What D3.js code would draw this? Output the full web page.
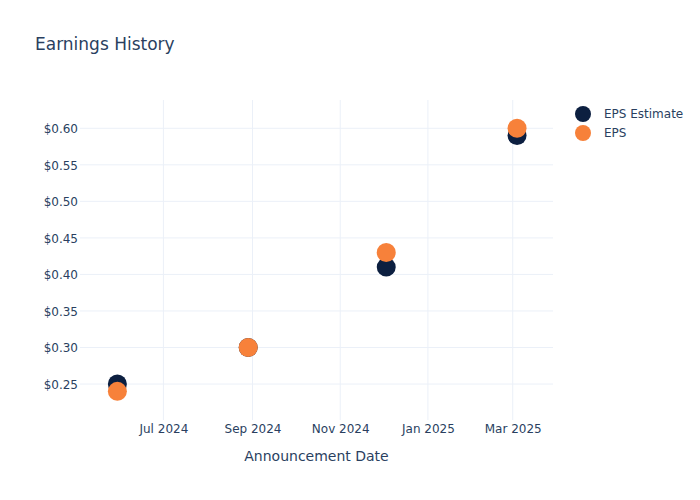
<!DOCTYPE html>
<html>
<head>
<meta charset="utf-8">
<script src="https://cdn.jsdelivr.net/npm/d3@7"></script>
<style>
  body { margin: 0; background: #fff; }
  svg { display: block; font-family: "DejaVu Sans", sans-serif; }
</style>
</head>
<body>
<svg id="chart" width="700" height="500"></svg>
<script>
const dates = ["2024-05-30", "2024-08-29", "2024-12-03", "2025-03-04"];
const epsEstimate = [0.25, 0.30, 0.41, 0.59];
const epsActual = [0.24, 0.30, 0.43, 0.60];
const yTicks = [0.25, 0.30, 0.35, 0.40, 0.45, 0.50, 0.55, 0.60];
const xTicks = ["2024-07-01", "2024-09-01", "2024-11-01", "2025-01-01", "2025-03-01"];

const series = [
  { name: "EPS Estimate", values: epsEstimate, color: "#0c1f40" },
  { name: "EPS", values: epsActual, color: "#f7813a" }
];

const parse = d3.utcParse("%Y-%m-%d");
const textColor = "#2a3f5f";
const gridColor = "#ebf0f8";

const margin = { top: 100, right: 147, bottom: 80, left: 80 };
const width = 700, height = 500;
const innerWidth = width - margin.left - margin.right;
const innerHeight = height - margin.top - margin.bottom;

const svg = d3.select("#chart");
const chart = svg.append("g").attr("transform", `translate(${margin.left},${margin.top})`);

const x = d3.scaleUtc()
  .domain([parse("2024-05-04"), parse("2025-03-29")])
  .range([0, innerWidth]);

const y = d3.scaleLinear()
  .domain([0.2008, 0.6387])
  .range([innerHeight, 0]);

// gridlines
chart.append("g")
  .selectAll("line.vgrid")
  .data(xTicks)
  .enter()
  .append("line")
  .attr("x1", (d) => x(parse(d)))
  .attr("x2", (d) => x(parse(d)))
  .attr("y1", 0)
  .attr("y2", innerHeight)
  .attr("stroke", gridColor);

chart.append("g")
  .selectAll("line.hgrid")
  .data(yTicks)
  .enter()
  .append("line")
  .attr("x1", 0)
  .attr("x2", innerWidth)
  .attr("y1", (d) => y(d))
  .attr("y2", (d) => y(d))
  .attr("stroke", gridColor);

const xAxis = d3.axisBottom(x)
  .tickValues(xTicks.map(parse))
  .tickFormat(d3.utcFormat("%b %Y"))
  .tickSize(0)
  .tickPadding(4);

const yAxis = d3.axisLeft(y)
  .tickValues(yTicks)
  .tickFormat((d) => "$" + d.toFixed(2))
  .tickSize(0)
  .tickPadding(2);

const gx = chart.append("g")
  .attr("transform", `translate(0,${innerHeight})`)
  .call(xAxis);
const gy = chart.append("g").call(yAxis);

[gx, gy].forEach((g) => {
  g.select(".domain").remove();
  g.attr("font-size", 12).attr("font-family", "DejaVu Sans, sans-serif");
  g.selectAll("text").attr("fill", textColor);
});
gy.selectAll("text").attr("dy", "0.35em");

// markers
series.forEach((s) => {
  chart.append("g")
    .selectAll("circle")
    .data(s.values.map((v, i) => ({ date: parse(dates[i]), value: v })))
    .enter()
    .append("circle")
    .attr("cx", (d) => x(d.date))
    .attr("cy", (d) => y(d.value))
    .attr("r", 9.5)
    .attr("fill", s.color);
});

// title
svg.append("text")
  .attr("x", 35)
  .attr("y", 50)
  .attr("fill", textColor)
  .attr("font-size", 17)
  .text("Earnings History");

// axis title
svg.append("text")
  .attr("x", margin.left + innerWidth / 2)
  .attr("y", 461)
  .attr("text-anchor", "middle")
  .attr("fill", textColor)
  .attr("font-size", 14)
  .text("Announcement Date");

// legend
const legend = svg.append("g").attr("transform", "translate(583,114)");
series.forEach((s, i) => {
  const row = legend.append("g").attr("transform", `translate(0,${i * 19})`);
  row.append("circle").attr("r", 8).attr("fill", s.color);
  row.append("text")
    .attr("x", 21)
    .attr("dy", "0.35em")
    .attr("fill", textColor)
    .attr("font-size", 12)
    .text(s.name);
});
</script>
</body>
</html>
